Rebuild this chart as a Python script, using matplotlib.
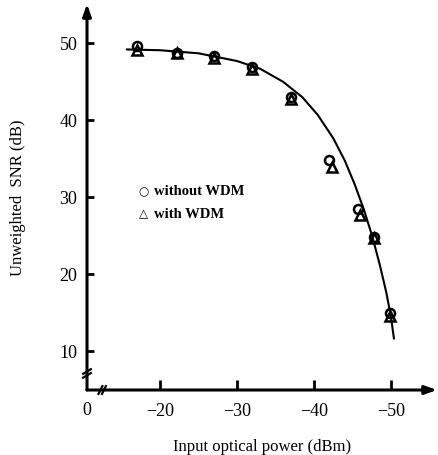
import matplotlib.pyplot as plt

# values (x = |input power| in dB below 0 dBm)
power_without = [17.0, 22.2, 27.0, 32.0, 37.0, 42.0, 45.7, 47.8, 49.9]
snr_without = [49.5, 48.7, 48.2, 46.8, 42.9, 34.8, 28.4, 24.8, 14.9]
power_with = [17.0, 22.2, 27.0, 32.0, 37.0, 42.3, 46.0, 47.8, 49.9]
snr_with = [49.0, 48.6, 48.0, 46.5, 42.7, 33.9, 27.6, 24.6, 14.5]
fit_power = [15.7, 20.0, 25.0, 30.0, 33.0, 36.0, 38.5, 40.5, 42.5, 44.0, 45.3,
             46.5, 47.6, 48.6, 49.4, 50.0, 50.4]
fit_snr = [49.1, 49.0, 48.6, 47.6, 46.6, 44.9, 42.9, 40.6, 37.6, 34.7, 31.6,
           28.3, 24.8, 21.0, 17.6, 14.5, 11.6]

xticks = [20, 30, 40, 50]
xlabels = ['\u221220', '\u221230', '\u221240', '\u221250']
yticks = [10, 20, 30, 40, 50]

plt.rcParams['font.family'] = ['Liberation Serif', 'DejaVu Serif']

fig = plt.figure(figsize=(4.38, 4.56), dpi=100)
ax = fig.add_axes([87 / 438, 65 / 456, 350 / 438, 386 / 456])
x0, x1 = 10.5, 56.0
y0, y1 = 4.9, 55.0
ax.set_xlim(x0, x1)
ax.set_ylim(y0, y1)
for s in ax.spines.values():
    s.set_visible(False)

# axis lines with arrow heads
arrow = dict(arrowstyle='-|>,head_length=0.7,head_width=0.25', lw=2.2, color='black',
             shrinkA=0, shrinkB=0)
ax.annotate('', xy=(x1, y0), xytext=(x0, y0), arrowprops=arrow, annotation_clip=False)
ax.annotate('', xy=(x0, y1), xytext=(x0, y0), arrowprops=arrow, annotation_clip=False)

# axis breaks
for dx in (0, 0.45):
    ax.plot([12.0 + dx, 12.5 + dx], [y0 - 0.5, y0 + 0.5], color='black', lw=1.6, clip_on=False)
for dy in (0, 0.5):
    ax.plot([x0 - 0.5, x0 + 0.5], [6.5 + dy, 7.1 + dy], color='black', lw=1.6, clip_on=False)

ax.set_xticks(xticks)
ax.set_xticklabels(xlabels)
ax.set_yticks(yticks)
ax.tick_params(axis='x', direction='in', length=7, width=2, pad=9, labelsize=13)
ax.tick_params(axis='y', direction='in', length=5, width=2, pad=7, labelsize=13)
ax.text(x0, y0 - 1.4, '0', ha='center', va='top', fontsize=13)

ax.plot(fit_power, fit_snr, color='black', lw=1.5)
ax.plot(power_without, snr_without, 'o', ms=6.5, mfc='none', mec='black', mew=1.8)
ax.plot(power_with, snr_with, '^', ms=6.5, mfc='none', mec='black', mew=1.8)

ax.text(17.2, 30.8, '\u25cb', fontsize=8.5, va='center', family=['DejaVu Sans'])
ax.text(19.2, 30.8, 'without WDM', fontsize=10.5, va='center', fontweight='bold')
ax.text(17.2, 27.9, '\u25b3', fontsize=8.5, va='center', family=['DejaVu Sans'])
ax.text(19.2, 27.8, 'with WDM', fontsize=10.5, va='center', fontweight='bold')

ax.set_xlabel('Input optical power (dBm)', fontsize=12, labelpad=13)
ax.set_ylabel('Unweighted  SNR (dB)', fontsize=12, labelpad=24)

fig.savefig('out.png', dpi=100)
